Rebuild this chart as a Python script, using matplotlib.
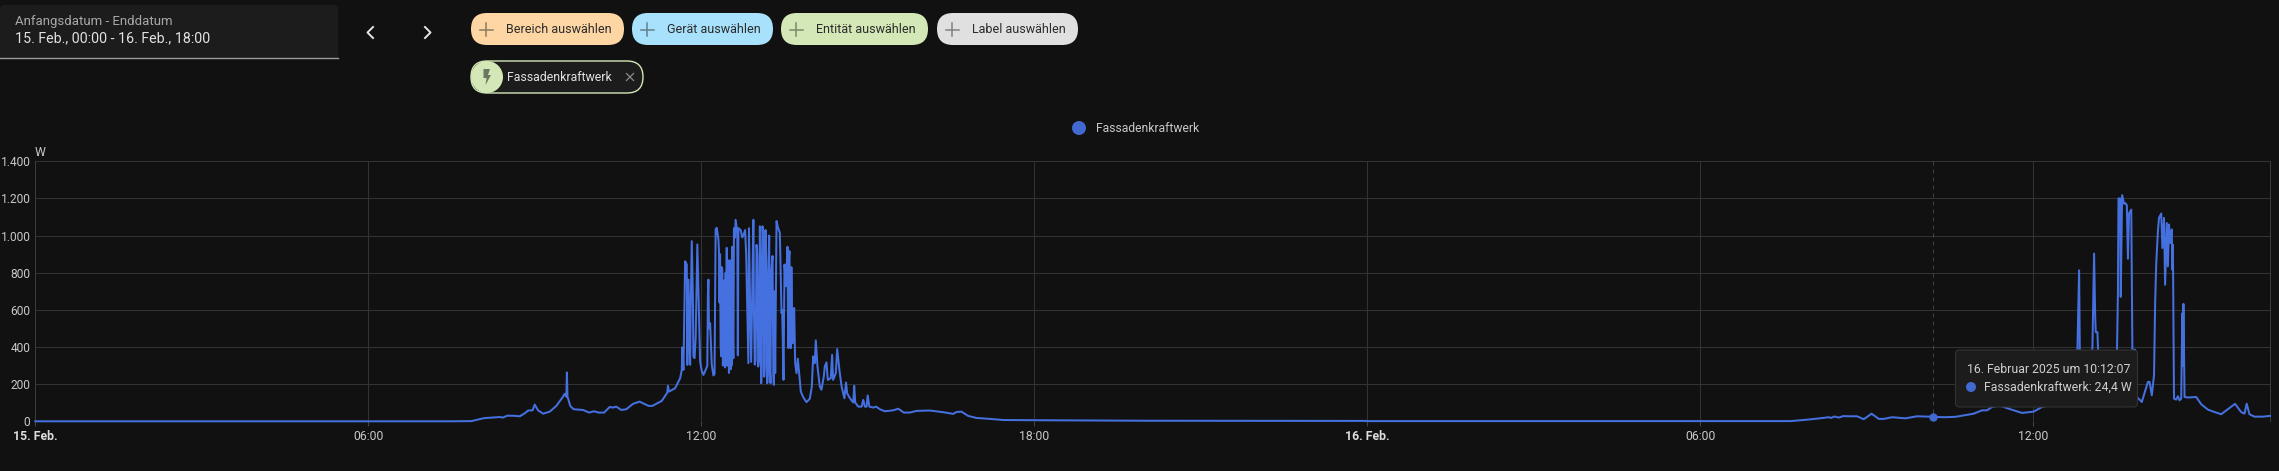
import matplotlib
matplotlib.use("Agg")
import matplotlib.pyplot as plt
from matplotlib.patches import FancyBboxPatch, Circle, Polygon, Rectangle

plt.rcParams['font.family'] = ['Roboto', 'DejaVu Sans']

# ---------- data: hours since midnight of each day, watts ----------
hours_15 = [0, 7.47, 7.86, 8.07, 8.13, 8.37, 8.43, 8.50, 8.61, 8.73, 8.82, 8.88, 8.96, 9.0, 9.06, 9.15, 9.27, 9.39,
            9.51, 9.54, 9.57, 9.58, 9.59, 9.64, 9.70, 9.87, 9.98, 10.07, 10.15, 10.25, 10.35, 10.41, 10.47, 10.56,
            10.65, 10.77, 10.89, 11.05, 11.12, 11.29, 11.39, 11.40, 11.42, 11.53, 11.62, 11.65, 11.66, 11.68,
            11.71, 11.74, 11.75, 11.77, 11.80, 11.81, 11.83, 11.85, 11.86, 11.88, 11.90, 11.93, 11.96, 11.98,
            12.01, 12.04, 12.08, 12.11, 12.12, 12.13, 12.14, 12.16, 12.19, 12.22, 12.24, 12.26, 12.28, 12.31,
            12.32, 12.33, 12.34, 12.35, 12.37, 12.38, 12.40, 12.41, 12.43, 12.46, 12.47, 12.49, 12.50, 12.52,
            12.53, 12.54, 12.55, 12.56, 12.58, 12.59, 12.61, 12.62, 12.65, 12.66, 12.67, 12.71, 12.74, 12.77,
            12.79, 12.81, 12.83, 12.85, 12.86, 12.88, 12.90, 12.94, 12.965, 12.997, 13.027, 13.057, 13.081,
            13.105, 13.135, 13.159, 13.19, 13.225, 13.249, 13.285, 13.309, 13.333, 13.357, 13.387, 13.417,
            13.447, 13.459, 13.483, 13.501, 13.525, 13.555, 13.573, 13.591, 13.615, 13.633, 13.657, 13.675,
            13.693, 13.717, 13.741, 13.765, 13.795, 13.837, 13.897, 13.957, 13.993, 14.017, 14.047, 14.065,
            14.095, 14.137, 14.167, 14.209, 14.227, 14.257, 14.281, 14.335, 14.359, 14.377, 14.425, 14.45,
            14.49, 14.53, 14.58, 14.61, 14.63, 14.68, 14.74, 14.757, 14.775, 14.83, 14.89, 14.92, 14.95, 14.98,
            15.00, 15.03, 15.10, 15.15, 15.22, 15.31, 15.46, 15.55, 15.65, 15.76, 15.88, 16.12, 16.36, 16.54,
            16.6, 16.69, 16.81, 16.96, 17.2, 17.44, 17.92, 20.0, 23.99]
watts_15 = [0, 0, 1, 16, 18, 23, 20, 30, 30, 27, 43, 58, 59, 90, 59, 41, 52, 83,
            133, 148, 133, 263, 133, 83, 65, 61, 47, 54, 47, 47, 77, 74, 79, 61,
            65, 94, 106, 83, 83, 110, 155, 191, 160, 178, 232, 277, 398, 277,
            862, 844, 304, 763, 304, 600, 970, 660, 349, 340, 448, 952, 565, 322,
            270, 250, 277, 300, 680, 763, 500, 529, 304, 247, 255, 1033, 1042, 979,
            916, 640, 900, 410, 830, 820, 400, 720, 290, 934, 300, 866, 260, 866,
            280, 866, 330, 940, 340, 1040, 990, 1085, 1020, 355, 1040, 1030, 990, 1010,
            1030, 900, 600, 313, 1040, 640, 320, 1085, 305, 950, 295, 1050, 205,
            1050, 240, 1030, 205, 1000, 205, 890, 196, 260, 1078, 1040, 1015,
            583, 600, 223, 844, 727, 940, 394, 916, 394, 620, 430, 610,
            313, 259, 337, 259, 160, 130, 103, 122, 187, 349, 313, 436,
            295, 187, 170, 241, 295, 317, 223, 232, 358, 223, 259, 389,
            277, 187, 124, 209, 151, 124, 101, 191, 101, 79, 79, 115, 79, 79,
            139, 79, 74, 79, 65, 54, 59, 68, 47, 47, 56, 58, 49, 40,
            50, 52, 29, 18, 13, 7, 6, 3, 2]

# further samples read inside the solid, rapidly alternating stretches
hours_15_dense = [12.36, 12.39, 12.42, 12.44, 12.45, 12.48, 12.505, 12.515, 12.535, 12.545, 12.565, 12.575,
                  12.95, 12.98, 13.01, 13.04, 13.07, 13.09, 13.12, 13.145, 13.17, 13.20, 13.21, 13.235, 13.26,
                  13.30, 13.32, 13.565, 13.58, 13.60, 13.625, 13.645, 13.665]
watts_15_dense = [350, 300, 760, 800, 330, 320, 780, 310, 800, 300, 700, 400,
                  600, 330, 900, 330, 800, 300, 980, 300, 900, 260, 800, 300, 800,
                  250, 700, 500, 880, 450, 830, 420, 560]

hours_16 = [0, 7.63, 7.9, 8.1, 8.32, 8.36, 8.42, 8.5, 8.58, 8.68, 8.83, 8.95, 9.09, 9.22, 9.31, 9.46, 9.70, 9.91,
            10.2, 10.39, 10.6, 10.93, 11.08, 11.17, 11.26, 11.4, 11.56, 11.8, 12.01, 12.16, 12.4, 12.6, 12.78,
            12.81, 12.83, 12.85, 13.0, 13.07, 13.10, 13.12, 13.13, 13.16, 13.2, 13.4, 13.5, 13.53, 13.54, 13.57,
            13.58, 13.605, 13.64, 13.66, 13.69, 13.71, 13.73, 13.77, 13.79, 13.84, 13.86, 13.96, 14.07, 14.10,
            14.14, 14.18, 14.2, 14.22, 14.25, 14.27, 14.31, 14.33, 14.36, 14.38, 14.41, 14.43, 14.45, 14.47,
            14.5, 14.51, 14.52, 14.54, 14.58, 14.61, 14.64, 14.67, 14.69, 14.70, 14.71, 14.73, 14.79, 14.94,
            15.03, 15.15, 15.27, 15.39, 15.51, 15.64, 15.75, 15.81, 15.85, 15.9, 15.99, 16.14, 16.27]
watts_16 = [1, 1, 8, 14, 22, 18, 26, 20, 28, 27, 27, 11, 41, 13, 13, 22, 16, 27,
            24.4, 22, 24, 41, 59, 59, 77, 85, 68, 45, 52, 77, 95, 105, 110,
            530, 813, 120, 110, 400, 903, 560, 480, 480, 150, 130, 150, 700, 1200, 1200,
            670, 1218, 1172, 1175, 1164, 875, 1120, 1140, 385, 385, 135, 104, 212, 212,
            140, 248, 636, 851, 1023, 1095, 1119, 933, 1095, 735, 1068, 834, 1060, 960,
            1033, 816, 951, 122, 117, 135, 113, 122, 582, 300, 632, 131, 128, 131,
            92, 63, 50, 38, 65, 94, 50, 41, 95, 38, 25, 25, 29]

y_ticks = [0, 200, 400, 600, 800, 1000, 1200, 1400]
y_labels = ['0', '200', '400', '600', '800', '1.000', '1.200', '1.400']
x_ticks = [0, 6, 12, 18, 24, 30, 36]
x_labels = ['15. Feb.', '06:00', '12:00', '18:00', '16. Feb.', '06:00', '12:00']
x_end = 40.27
series_name = 'Fassadenkraftwerk'
unit = 'W'
cursor_hour = 24 + 10.2
cursor_value = 24.4
date_caption = 'Anfangsdatum - Enddatum'
date_range = '15. Feb., 00:00 - 16. Feb., 18:00'
tooltip_title = '16. Februar 2025 um 10:12:07'
tooltip_value = 'Fassadenkraftwerk: 24,4 W'
pill_labels = ['Bereich auswählen', 'Gerät auswählen', 'Entität auswählen', 'Label auswählen']

# ---------- style ----------
W, H = 2279, 471
BG = '#111111'
BLUE = '#4269d0'
LINE_BLUE = '#4570df'
GRID = '#333333'
TXT = '#c8c8c8'

fig = plt.figure(figsize=(W / 100, H / 100), dpi=100, facecolor=BG)
ax = fig.add_axes([35.3 / W, (H - 421.3) / H, (2270 - 35.3) / W, 260 / H], facecolor=BG)

day1 = sorted(zip(list(hours_15) + hours_15_dense, list(watts_15) + watts_15_dense))
times = [t for t, _ in day1] + [24 + h for h in hours_16]
values = [v for _, v in day1] + list(watts_16)
ax.plot(times, values, color=LINE_BLUE, lw=1.45, clip_on=False, zorder=3, solid_joinstyle='round')
ax.axvline(cursor_hour, color='#444444', lw=0.72, ls=(0, (4, 4)), zorder=2)
ax.plot([cursor_hour], [cursor_value], 'o', color=BLUE, ms=5, zorder=4, clip_on=False)

ax.set_xlim(0, x_end)
ax.set_ylim(0, 1400)
ax.set_yticks(y_ticks, y_labels)
ax.set_xticks(x_ticks, x_labels)
ax.grid(True, color=GRID, lw=0.72)
ax.set_axisbelow(True)
for s in ('top', 'bottom'):
    ax.spines[s].set_visible(False)
for s in ('left', 'right'):
    ax.spines[s].set_color('#3c3c3c')
    ax.spines[s].set_linewidth(0.72)
ax.tick_params(axis='y', length=0, pad=3.5, labelsize=8.64, labelcolor=TXT)
ax.tick_params(axis='x', length=3.5, width=0.72, color='#444444', pad=3, labelsize=8.8, labelcolor=TXT)
for t in ax.get_xticklabels():
    if 'Feb' in t.get_text():
        t.set_fontweight('bold')
        t.set_color('#dddddd')

# ---------- page chrome, in pixel coordinates ----------
ui = fig.add_axes([0, 0, 1, 1], zorder=5)
ui.set_xlim(0, W)
ui.set_ylim(H, 0)
ui.axis('off')
ui.patch.set_alpha(0)


def pill(x0, x1, y0, y1, fc, ec='none', r=16, lw=1.0, z=2):
    ui.add_patch(FancyBboxPatch((x0, y0), x1 - x0, y1 - y0, boxstyle=f'round,pad=0,rounding_size={r}',
                                fc=fc, ec=ec, lw=lw, zorder=z))


# date box
pill(0, 338, 5, 58, '#1c1c1c', r=4)
ui.add_patch(Rectangle((0, 54), 338, 4, fc='#1c1c1c', ec='none', zorder=2))
ui.plot([0, 338], [57.5, 57.5], color='#9a9a9a', lw=1.0, zorder=3)
ui.text(15, 21, date_caption, fontsize=9.5, color='#a8a8a8', va='center', ha='left')
ui.text(15, 38.5, date_range, fontsize=10.3, color='#e2e2e2', va='center', ha='left')

# chevrons
ui.plot([373, 367.5, 373], [27, 32.5, 38], color='#e6e6e6', lw=1.4, zorder=3)
ui.plot([425, 430.5, 425], [27, 32.5, 38], color='#e6e6e6', lw=1.4, zorder=3)

# filter pills
pill_x = [(471, 624), (632, 773), (781, 928), (937, 1078)]
pill_fc = ['#fed6a4', '#a8e1fb', '#d4e8b7', '#e0e0e0']
pill_ic = ['#8b7a62', '#66808d', '#7b8a68', '#808080']
for (a, b), fc, ic, lab in zip(pill_x, pill_fc, pill_ic, pill_labels):
    pill(a, b, 13, 45, fc)
    cx = a + 15
    ui.plot([cx - 6.5, cx + 6.5], [29.5, 29.5], color=ic, lw=1.1, zorder=3)
    ui.plot([cx, cx], [23, 36], color=ic, lw=1.1, zorder=3)
    ui.text(a + 35, 29.5, lab, fontsize=9.0, color='#2a2a2a', va='center', ha='left')

# selected entity pill
pill(471, 643, 61, 93, '#1c1c1c', ec='#d4e8b7', lw=1.0)
ui.add_patch(Circle((487, 77), 16, fc='#d4e8b7', ec='none', zorder=3))
ui.add_patch(Polygon([(483.5, 69), (490, 69), (488, 75), (491, 75), (485.5, 85), (486.5, 78), (483.5, 78)],
                     fc='#6c7660', ec='none', zorder=4))
ui.text(507, 77.5, series_name, fontsize=8.9, color='#e2e2e2', va='center', ha='left')
ui.plot([626.5, 633.5], [73.5, 80.5], color='#8c8c8c', lw=0.9, zorder=3)
ui.plot([626.5, 633.5], [80.5, 73.5], color='#8c8c8c', lw=0.9, zorder=3)

# legend
ui.add_patch(Circle((1079, 128), 7, fc=BLUE, ec='none', zorder=3))
ui.text(1096, 128, series_name, fontsize=8.7, color=TXT, va='center', ha='left')

# unit
ui.text(40, 152, unit, fontsize=8.8, color=TXT, va='center', ha='center')

# tooltip
pill(1955.5, 2137.5, 350, 407, '#1c1c1c', ec='#333333', r=4, lw=0.8, z=6)
ui.text(1967, 369.5, tooltip_title, fontsize=8.8, color='#cfcfcf', va='center', ha='left', zorder=7)
ui.add_patch(Circle((1971, 387), 5, fc=BLUE, ec='none', zorder=7))
ui.text(1983.5, 387.5, tooltip_value, fontsize=8.8, color='#cfcfcf', va='center', ha='left', zorder=7)

fig.savefig('out.png', dpi=100, facecolor=BG)
